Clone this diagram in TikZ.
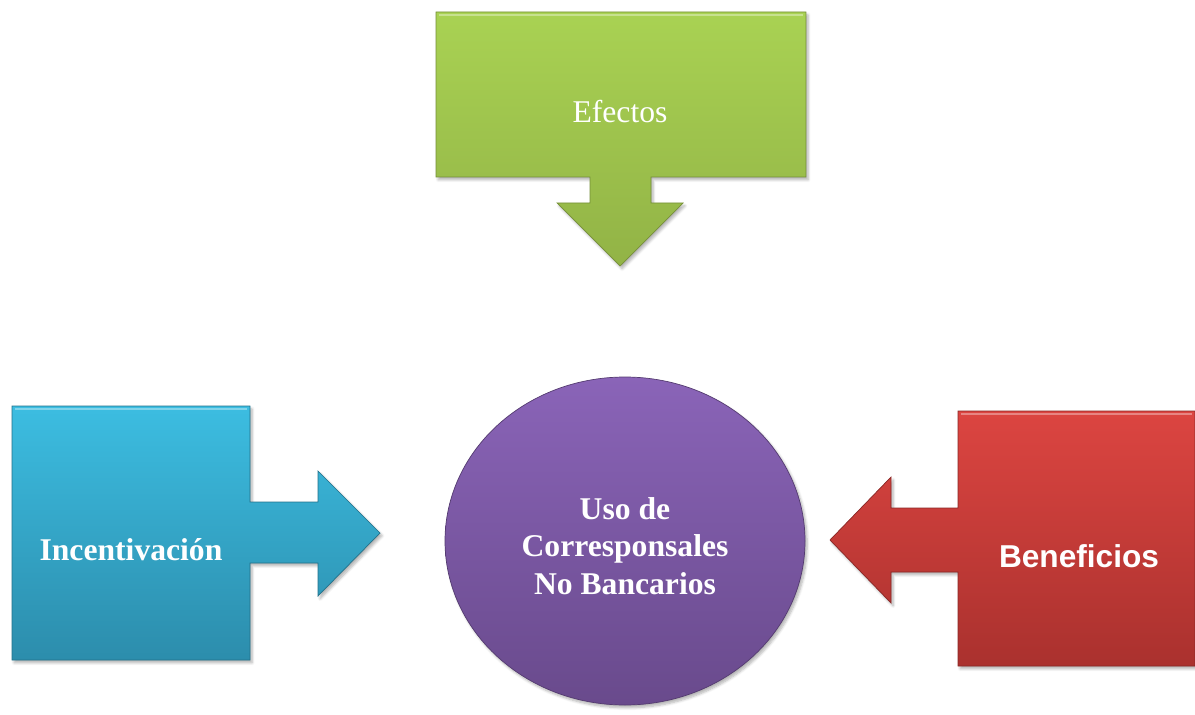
\documentclass[tikz,border=0pt]{standalone}
\usepackage{fontspec}
\setmainfont{Liberation Serif}
\newfontfamily\arialfont{Liberation Sans}
\usetikzlibrary{shadows.blur}
\definecolor{efectostop}{HTML}{A9D253}
\definecolor{efectosbot}{HTML}{92B346}
\definecolor{incentop}{HTML}{3CBDE1}
\definecolor{incenbot}{HTML}{2C8DAC}
\definecolor{benefitop}{HTML}{DC4541}
\definecolor{benefibot}{HTML}{AA312E}
\definecolor{usotop}{HTML}{8A64B8}
\definecolor{usobot}{HTML}{694A8C}

\begin{document}
\begin{tikzpicture}[x=0.025cm, y=-0.025cm,
    callout/.style={line width=0.5pt, line join=miter,
        blur shadow={shadow xshift=1.5pt, shadow yshift=-2pt, shadow blur steps=6, shadow opacity=30}},
    boxtext/.style={text=white, align=center, font=\fontsize{22.5}{26.5}\selectfont}]
    \useasboundingbox (0,0) rectangle (1195,715);
    % Efectos, arrow down
    \shade[callout, draw=efectosbot!80!black, top color=efectostop, bottom color=efectosbot]
        (436,12) -- (806,12) -- (806,177) -- (651,177) -- (651,203) -- (683,203) -- (620,266)
        -- (557,203) -- (590,203) -- (590,177) -- (436,177) -- cycle;
    % Incentivacion, arrow right
    \shade[callout, draw=incenbot!80!black, top color=incentop, bottom color=incenbot]
        (12,406) -- (250,406) -- (250,502) -- (318,502) -- (318,471) -- (380,533) -- (318,596)
        -- (318,563) -- (250,563) -- (250,660) -- (12,660) -- cycle;
    % Beneficios, arrow left
    \shade[callout, draw=benefibot!80!black, top color=benefitop, bottom color=benefibot]
        (958,411) -- (1195,411) -- (1195,666) -- (958,666) -- (958,572) -- (891,572) -- (891,603)
        -- (830,540) -- (891,477) -- (891,508) -- (958,508) -- cycle;
    % centre
    \shade[callout, draw=usobot!80!black, top color=usotop, bottom color=usobot]
        (625,541) ellipse [x radius=180, y radius=164];
    \draw[white, opacity=.35, line width=2pt] (439,15) -- (803,15);
    \draw[white, opacity=.35, line width=2pt] (15,409) -- (247,409);
    \draw[white, opacity=.35, line width=2pt] (961,414) -- (1192,414);

    \node[boxtext] (efectos) at (620,112) {Efectos};
    \node[boxtext, font=\fontsize{22.5}{26.5}\selectfont\bfseries] (incentivacion) at (131,550) {Incentivación};
    \node[boxtext, font=\fontsize{22.5}{26.5}\selectfont\arialfont\bfseries] (beneficios) at (1079,556) {Beneficios};
    \node[boxtext, font=\fontsize{22.5}{26.5}\selectfont\bfseries] (uso) at (625,546) {Uso de\\Corresponsales\\No Bancarios};
\end{tikzpicture}
\end{document}
